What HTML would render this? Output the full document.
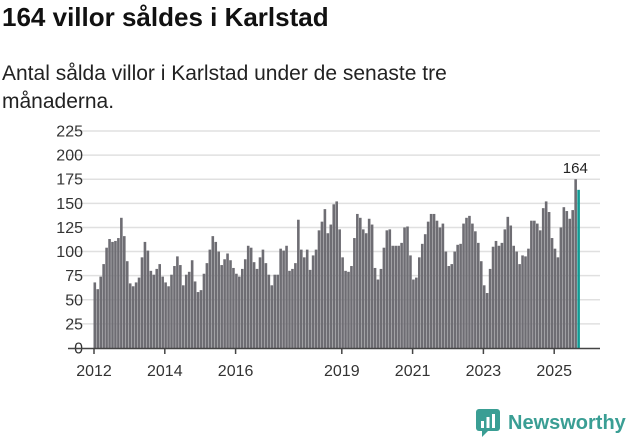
<!DOCTYPE html>
<html><head><meta charset="utf-8">
<style>
body{margin:0;width:631px;height:439px;background:#fff;font-family:"Liberation Sans","DejaVu Sans",sans-serif;overflow:hidden;position:relative}
#title{position:absolute;left:2px;top:2px;font-size:26px;font-weight:bold;color:#111;margin:0}
#sub{position:absolute;left:2px;top:60px;font-size:21px;line-height:28px;color:#222;width:560px;margin:0}
svg{position:absolute;left:0;top:0}
</style></head><body>
<h1 id="title">164 villor såldes i Karlstad</h1>
<p id="sub">Antal sålda villor i Karlstad under de senaste tre månaderna.</p>
<svg id="chart" width="631" height="439"></svg>
<script>
const values=[68,61,74,87,104,113,110,111,114,135,116,90,67,64,68,73,94,110,101,80,76,82,87,74,
68,64,76,85,95,86,65,76,79,91,69,58,60,77,88,102,116,110,100,86,92,98,91,83,
77,74,82,92,
106,104,89,82,94,102,88,76,65,76,76,103,101,106,80,82,88,133,102,94,102,81,96,102,122,131,144,119,128,149,152,123,94,80,79,85,114,139,135,123,119,134,128,83,71,82,104,122,123,106,106,106,109,125,126,96,71,73,94,108,
118,131,139,139,132,125,129,100,85,87,100,107,108,129,135,137,129,121,109,90,65,57,82,105,111,106,109,123,136,127,106,100,87,96,95,103,132,132,129,122,145,152,141,114,103,94,125,146,142,134,143,175,164];
const yTicks=[0,25,50,75,100,125,150,175,200,225];
const xTickYears=[2012,2014,2016,2019,2021,2023,2025];
const startYear=2012;
const NS="http://www.w3.org/2000/svg";
const svg=document.getElementById('chart');
const y0=348,yTop=131,yMax=225;
const y=v=>y0-(v/yMax)*(y0-yTop);
const x0=93.5,step=2.95;
const x=i=>x0+i*step;
function mk(t,a){const e=document.createElementNS(NS,t);for(const k in a)e.setAttribute(k,a[k]);svg.appendChild(e);return e;}
yTicks.forEach(t=>{
  if(t>0){const g=mk('line',{x1:68,x2:600,y1:y(t),y2:y(t),stroke:'#e0e0e0','stroke-width':1.5});
  
  }
  const l=mk('text',{x:83,y:y(t)+5.5,'text-anchor':'end','font-size':16,fill:'#333','font-family':'Liberation Sans, sans-serif'});
  l.textContent=t;
  
  
});
values.forEach((v,i)=>{
  const last=i===values.length-1;
  const b=mk('rect',{x:x(i),y:y(v),width:2.6,height:y0-y(v),fill:last?'#0f9c95':'#6e6d73'});
  
  
  if(last){const t=mk('text',{x:x(i)-2,y:y(values[i-1])-6,'text-anchor':'middle','font-size':15,fill:'#222','font-family':'Liberation Sans, sans-serif'});
  t.textContent=v;
  
  }
});
const ax=mk('line',{x1:68,x2:600,y1:y0+0.5,y2:y0+0.5,stroke:'#444','stroke-width':1.5});


xTickYears.forEach(yr=>{
  const px=x((yr-startYear)*12)+0.5;
  const tk=mk('line',{x1:px,x2:px,y1:y0,y2:y0+6,stroke:'#444','stroke-width':1.5});
  
  
  const l=mk('text',{x:px,y:376,'text-anchor':'middle','font-size':16,fill:'#333','font-family':'Liberation Sans, sans-serif'});
  l.textContent=yr;
  
  
});
</script>
<div style="position:absolute;left:476px;top:408px;height:30px;display:flex;align-items:center">
<svg width="24" height="28" style="position:static"><rect x="0" y="0" width="24" height="22" rx="3" fill="#3a9e94"/><path d="M6 22 L6 28 L12 22Z" fill="#3a9e94"/><rect x="5" y="12" width="3" height="7" fill="#fff"/><rect x="10.5" y="8" width="3" height="11" fill="#fff"/><rect x="16" y="5" width="3" height="14" fill="#fff"/></svg>
<span style="margin-left:8px;font-size:20px;font-weight:bold;color:#3a9e94">Newsworthy</span></div>
</body></html>
